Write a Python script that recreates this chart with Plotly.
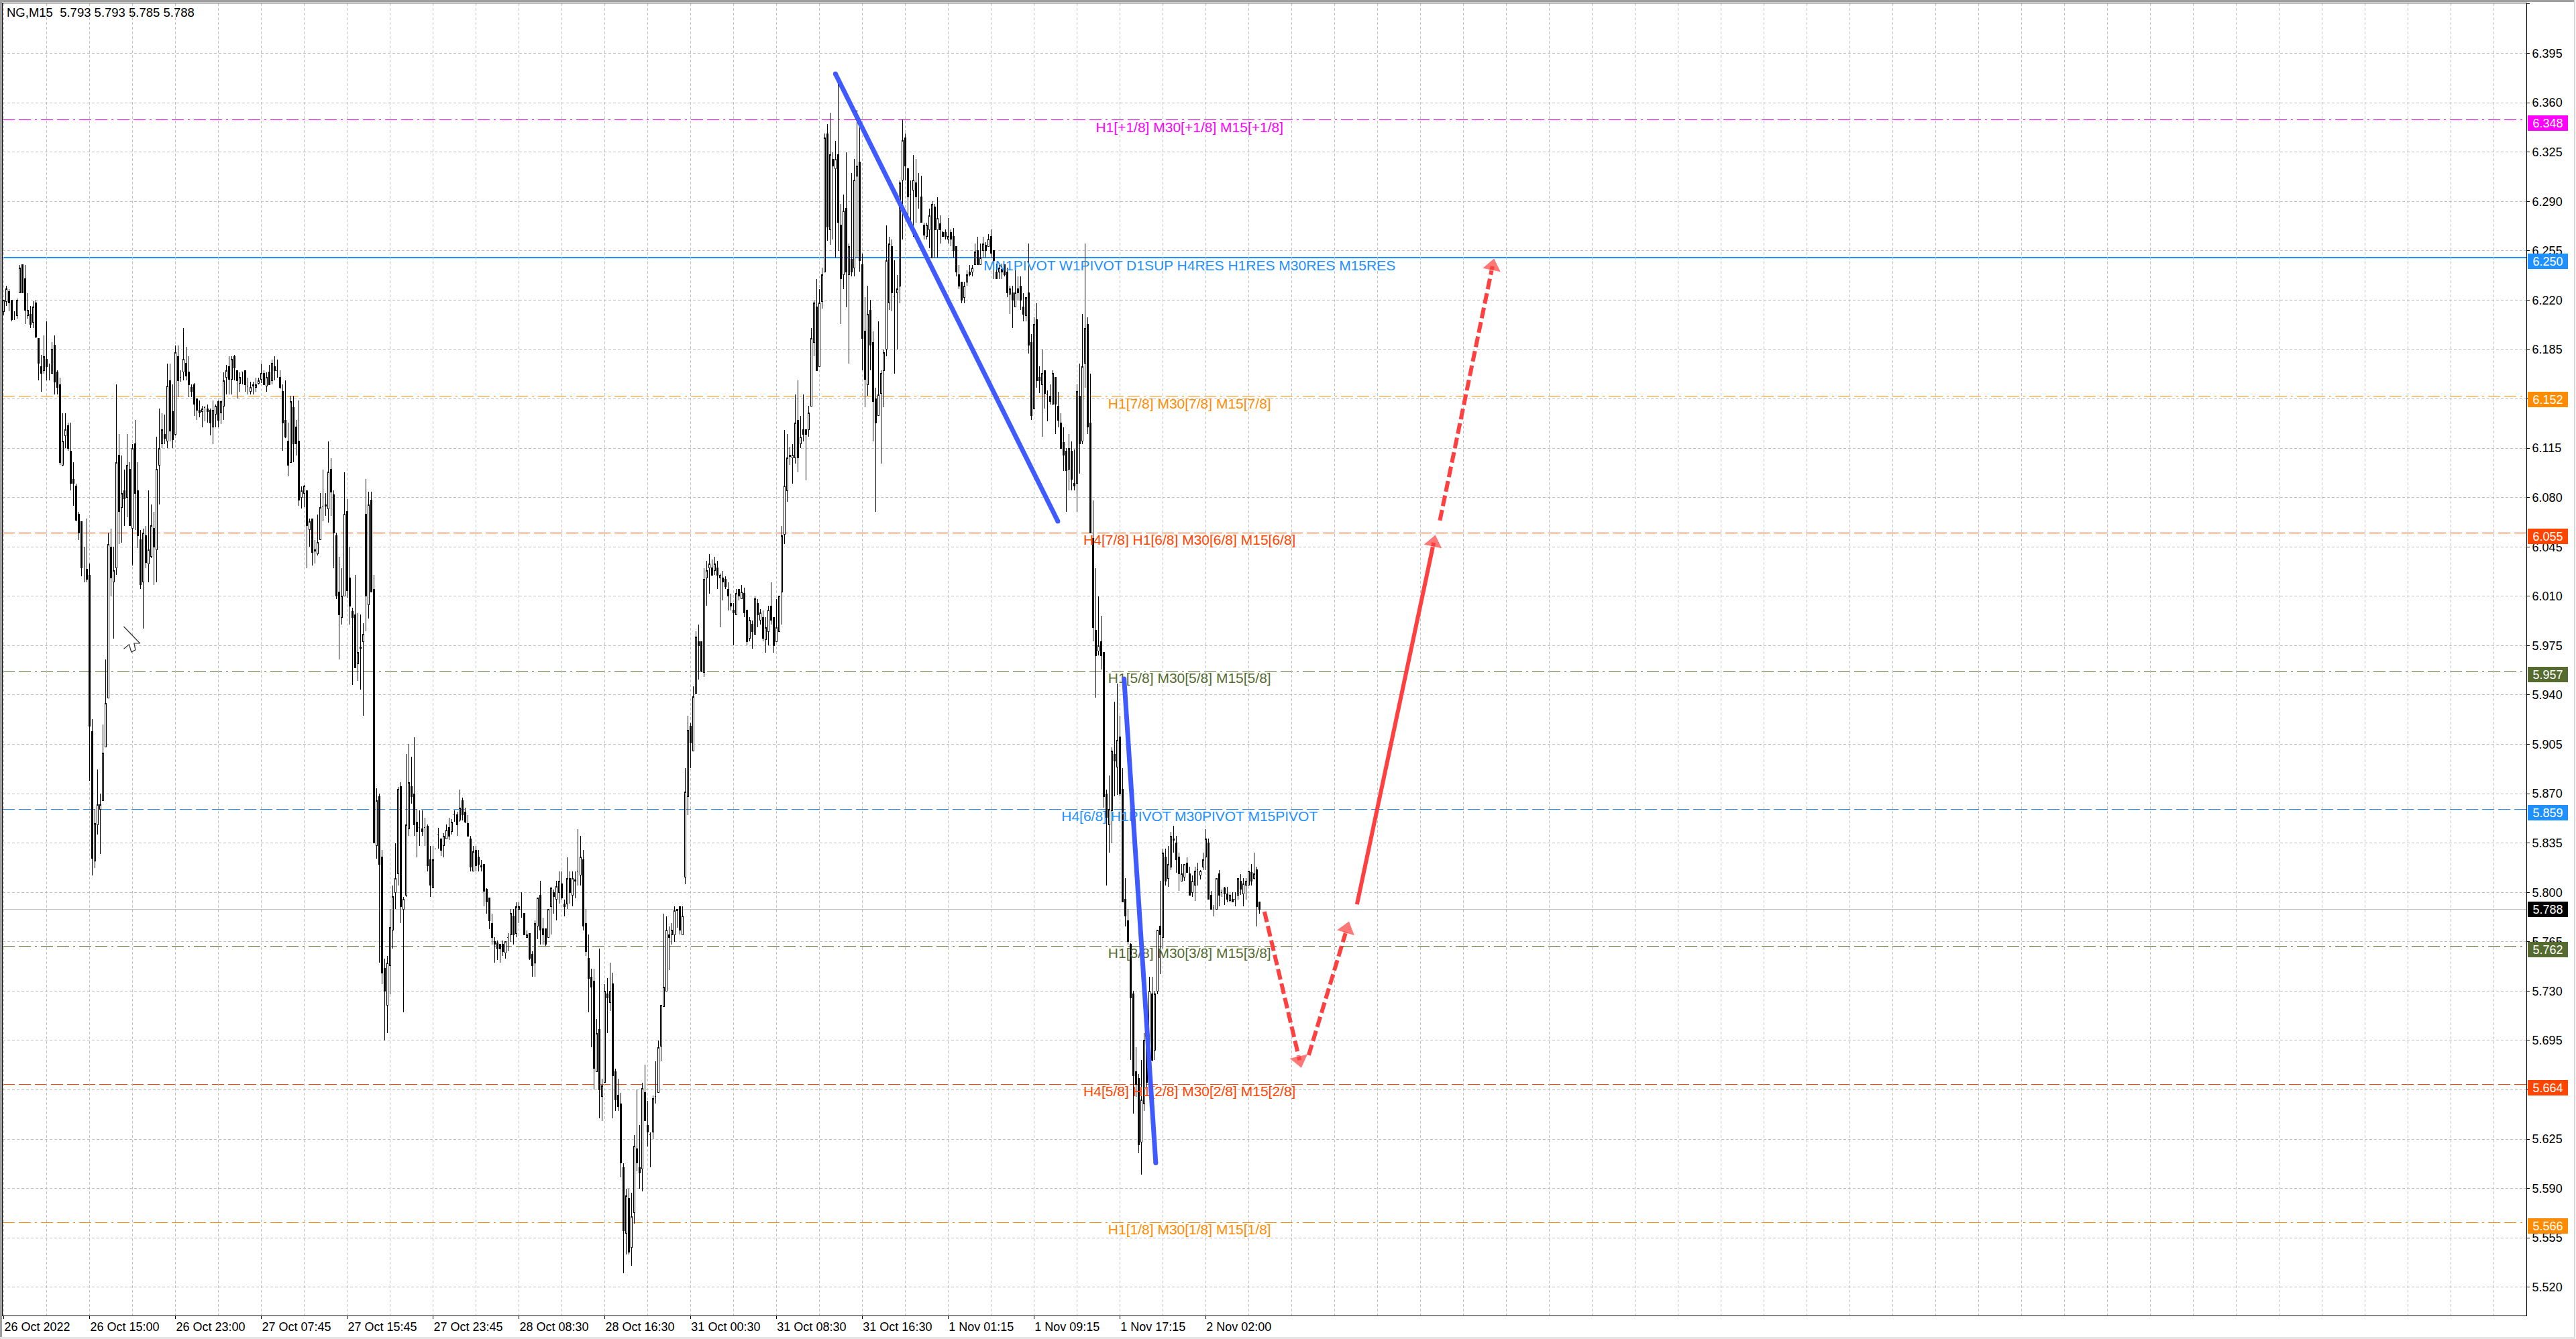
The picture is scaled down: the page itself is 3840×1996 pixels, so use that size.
import plotly.graph_objects as go

# Bars: (open, high, low, close)
bars_a = [
(6.212,6.220,6.209,6.220),(6.219,6.230,6.216,6.228),(6.226,6.228,6.212,6.218),(6.220,6.220,6.205,6.206),(6.209,6.212,6.206,6.209),
(6.209,6.221,6.207,6.220),(6.225,6.245,6.225,6.243),(6.245,6.245,6.225,6.225),(6.235,6.245,6.203,6.213),(6.209,6.225,6.207,6.213),
(6.210,6.216,6.200,6.203),(6.204,6.219,6.200,6.215),(6.218,6.220,6.193,6.194),(6.193,6.193,6.163,6.175),(6.173,6.181,6.155,6.168),
(6.170,6.195,6.168,6.180),(6.178,6.205,6.163,6.173),(6.170,6.175,6.163,6.170),(6.168,6.190,6.168,6.185),(6.188,6.195,6.153,6.162),
(6.169,6.170,6.153,6.158),(6.160,6.165,6.103,6.105),(6.103,6.140,6.102,6.120),(6.124,6.140,6.115,6.128),(6.131,6.133,6.113,6.115),
(6.113,6.133,6.085,6.090),(6.093,6.105,6.074,6.090),(6.088,6.090,6.063,6.064),(6.068,6.070,6.050,6.055),(6.063,6.063,6.024,6.030),
(6.033,6.045,6.020,6.033),(6.029,6.065,6.020,6.022),(6.025,6.033,5.879,5.918),(5.914,5.923,5.812,5.824),(5.822,5.859,5.817,5.849),
(5.848,5.887,5.841,5.862),(5.859,5.870,5.827,5.862),(5.865,5.919,5.865,5.899),(5.903,5.965,5.903,5.934),(5.938,6.055,5.938,6.047),
(6.045,6.058,6.010,6.023),(6.020,6.045,5.980,6.028),(6.030,6.160,6.025,6.105),(6.110,6.125,6.047,6.070),(6.073,6.110,6.048,6.083),
(6.085,6.100,6.060,6.079),(6.080,6.125,6.066,6.103),(6.100,6.105,6.060,6.060),(6.058,6.118,6.032,6.115),(6.118,6.135,6.057,6.083),
(6.085,6.105,6.044,6.053),(6.050,6.057,6.015,6.018),(6.020,6.058,5.987,6.055),(6.053,6.060,6.030,6.034),(6.033,6.085,6.020,6.043),
(6.038,6.075,6.037,6.060),(6.058,6.070,6.018,6.045),(6.043,6.123,6.020,6.100),(6.103,6.143,6.075,6.115),(6.118,6.140,6.115,6.128),
(6.125,6.139,6.118,6.122),(6.120,6.175,6.115,6.159),(6.163,6.175,6.120,6.127),(6.141,6.160,6.115,6.121),(6.125,6.188,6.124,6.183),
(6.180,6.188,6.151,6.163),(6.165,6.170,6.162,6.165),(6.169,6.200,6.163,6.178),(6.175,6.187,6.163,6.166),(6.169,6.180,6.151,6.160),
(6.158,6.160,6.151,6.155),(6.160,6.161,6.138,6.146),(6.150,6.150,6.135,6.142),(6.142,6.149,6.137,6.140),(6.141,6.145,6.130,6.143),
(6.144,6.145,6.134,6.144),(6.143,6.146,6.133,6.141),(6.142,6.143,6.124,6.133),(6.130,6.149,6.118,6.142),(6.139,6.146,6.130,6.145),
]
bars_b = [
(6.148,6.149,6.130,6.135),(6.140,6.149,6.132,6.148),(6.145,6.169,6.135,6.163),(6.165,6.174,6.153,6.170),(6.173,6.180,6.153,6.164),
(6.164,6.180,6.153,6.178),(6.180,6.181,6.163,6.172),(6.170,6.170,6.150,6.163),(6.161,6.169,6.155,6.165),(6.169,6.169,6.160,6.169),
(6.170,6.170,6.155,6.160),(6.159,6.165,6.153,6.159),(6.155,6.162,6.153,6.158),(6.159,6.162,6.153,6.160),(6.158,6.165,6.155,6.160),
(6.161,6.165,6.160,6.163),(6.164,6.175,6.161,6.168),(6.168,6.170,6.160,6.160),(6.159,6.169,6.155,6.165),(6.169,6.174,6.160,6.160),
(6.163,6.178,6.160,6.175),(6.173,6.180,6.163,6.170),(6.170,6.178,6.165,6.170),(6.165,6.170,6.157,6.158),(6.155,6.160,6.113,6.133),
(6.135,6.163,6.122,6.123),(6.120,6.133,6.095,6.103),(6.105,6.152,6.105,6.148),(6.144,6.152,6.105,6.118),(6.130,6.135,6.110,6.118),
(6.120,6.149,6.074,6.078),(6.080,6.088,6.072,6.085),(6.083,6.089,6.073,6.088),(6.085,6.085,6.030,6.060),(6.057,6.065,6.045,6.063),
(6.065,6.065,6.032,6.041),(6.042,6.050,6.033,6.043),(6.040,6.068,6.039,6.048),(6.050,6.083,6.050,6.073),(6.074,6.100,6.063,6.074),
(6.074,6.083,6.067,6.075),(6.072,6.120,6.062,6.098),(6.100,6.108,6.067,6.084),(6.082,6.085,6.030,6.055),(6.053,6.055,6.008,6.010),
(6.013,6.038,5.965,5.997),(5.995,6.030,5.990,6.010),(6.010,6.098,6.010,6.068),(6.070,6.079,6.009,6.014),(6.023,6.045,5.990,6.003),
(5.999,6.002,5.947,5.995),(5.997,6.025,5.959,5.959),(5.962,5.998,5.950,5.970),(5.973,5.997,5.944,5.974),(5.978,5.991,5.925,5.983),
(6.068,6.093,5.985,6.010),(6.004,6.084,5.994,6.075),(6.078,6.084,6.013,6.013),(6.015,6.025,5.835,5.835),(5.833,5.874,5.824,5.865),
(5.868,5.870,5.750,5.820),(5.825,5.830,5.735,5.743),(5.746,5.753,5.695,5.730),(5.720,5.755,5.700,5.750),(5.748,5.788,5.728,5.775),
(5.773,5.805,5.760,5.797),(5.800,5.835,5.788,5.810),(5.813,5.875,5.805,5.873),(5.875,5.878,5.778,5.790),(5.788,5.797,5.715,5.795),
(5.798,5.898,5.797,5.848),(5.845,5.905,5.840,5.878),(5.875,5.896,5.863,5.868),(5.870,5.910,5.840,5.848),(5.850,5.859,5.825,5.843),
(5.846,5.858,5.833,5.846),(5.845,5.858,5.840,5.843),(5.846,5.853,5.833,5.846),(5.847,5.848,5.815,5.819),(5.823,5.833,5.797,5.805),
]
bars_c = [
(5.803,5.833,5.803,5.823),(5.831,5.831,5.831,5.831),(5.841,5.846,5.831,5.841),(5.838,5.838,5.826,5.830),(5.833,5.842,5.825,5.840),
(5.838,5.848,5.838,5.844),(5.846,5.853,5.837,5.840),(5.843,5.852,5.841,5.850),(5.855,5.858,5.850,5.855),(5.855,5.857,5.840,5.848),
(5.851,5.873,5.850,5.860),(5.865,5.867,5.851,5.855),(5.857,5.860,5.849,5.850),(5.849,5.855,5.840,5.840),(5.838,5.840,5.815,5.818),
(5.815,5.833,5.815,5.829),(5.830,5.833,5.815,5.819),(5.825,5.830,5.815,5.820),(5.819,5.823,5.815,5.818),(5.820,5.820,5.790,5.801),
(5.802,5.803,5.785,5.793),(5.796,5.796,5.774,5.780),(5.778,5.785,5.763,5.768),(5.765,5.768,5.750,5.763),(5.764,5.766,5.752,5.760),
(5.763,5.763,5.750,5.760),(5.763,5.766,5.755,5.758),(5.757,5.765,5.753,5.765),(5.768,5.771,5.758,5.768),(5.770,5.788,5.765,5.785),
(5.783,5.788,5.763,5.770),(5.771,5.793,5.768,5.790),(5.788,5.793,5.778,5.790),(5.788,5.800,5.782,5.788),(5.785,5.785,5.770,5.770),
(5.768,5.773,5.768,5.770),(5.771,5.771,5.752,5.753),(5.756,5.758,5.740,5.748),(5.750,5.780,5.740,5.778),(5.776,5.796,5.767,5.796),
(5.798,5.808,5.763,5.773),(5.774,5.782,5.763,5.770),(5.774,5.774,5.762,5.763),(5.768,5.788,5.768,5.788),(5.790,5.803,5.770,5.803),
(5.800,5.802,5.785,5.797),(5.795,5.808,5.780,5.804),(5.800,5.815,5.792,5.808),(5.806,5.815,5.795,5.796),(5.792,5.795,5.783,5.790),
(5.792,5.825,5.788,5.810),(5.810,5.815,5.792,5.800),(5.798,5.815,5.790,5.810),(5.809,5.815,5.796,5.808),(5.815,5.845,5.805,5.815),
(5.812,5.840,5.805,5.825),(5.823,5.830,5.773,5.776),(5.778,5.788,5.755,5.758),(5.753,5.770,5.715,5.739),(5.740,5.746,5.690,5.733),
(5.737,5.746,5.660,5.675),(5.673,5.710,5.673,5.700),(5.703,5.760,5.640,5.660),(5.655,5.668,5.638,5.663),(5.665,5.735,5.665,5.730),
(5.728,5.739,5.700,5.725),(5.722,5.750,5.716,5.730),(5.735,5.743,5.640,5.670),(5.673,5.675,5.645,5.653),(5.656,5.668,5.645,5.648),
(5.650,5.658,5.598,5.608),(5.605,5.608,5.530,5.560),(5.558,5.590,5.543,5.585),(5.583,5.590,5.543,5.545),(5.548,5.587,5.535,5.570),
(5.573,5.628,5.565,5.620),(5.618,5.660,5.602,5.608),(5.605,5.635,5.590,5.601),(5.604,5.665,5.588,5.661),(5.658,5.678,5.638,5.638),
]
bars_d = [
(5.635,5.652,5.620,5.630),(5.628,5.630,5.605,5.628),(5.630,5.656,5.625,5.654),(5.655,5.680,5.650,5.655),(5.658,5.695,5.658,5.690),
(5.691,5.720,5.680,5.720),(5.719,5.785,5.719,5.733),(5.730,5.783,5.730,5.773),(5.770,5.776,5.745,5.768),(5.770,5.778,5.763,5.773),
(5.770,5.790,5.765,5.787),(5.787,5.788,5.775,5.788),(5.790,5.790,5.770,5.773),(5.770,5.790,5.770,5.783),(5.811,5.888,5.806,5.871),
(5.868,5.925,5.855,5.915),(5.918,5.920,5.888,5.906),(5.900,5.946,5.900,5.939),(5.941,5.985,5.941,5.981),(5.978,5.990,5.951,5.975),
(5.978,5.978,5.956,5.957),(5.956,6.030,5.953,6.022),(6.023,6.035,6.003,6.028),(6.030,6.040,6.012,6.033),(6.030,6.036,6.025,6.025),
(6.028,6.038,6.025,6.033),(6.030,6.035,6.015,6.025),(6.023,6.026,5.988,6.025),(6.023,6.028,6.007,6.020),(6.022,6.024,6.015,6.017),
(6.015,6.020,6.000,6.010),(6.005,6.012,6.000,6.003),(6.000,6.005,5.975,5.998),(5.997,6.015,5.997,6.012),(6.015,6.015,6.007,6.010),
(6.008,6.018,6.008,6.013),(6.012,6.016,5.995,5.998),(6.000,6.000,5.975,5.978),(5.980,5.995,5.978,5.993),(5.990,5.993,5.973,5.985),
(5.983,6.010,5.983,6.008),(6.005,6.008,5.988,5.997),(5.993,6.001,5.990,5.998),(5.995,6.000,5.978,5.980),(5.979,5.995,5.970,5.988),
(5.985,6.003,5.975,6.000),(6.003,6.020,5.990,5.993),(5.995,5.995,5.970,5.975),(5.978,6.008,5.978,5.988),(5.985,6.010,5.985,6.010),
(6.013,6.060,5.990,6.053),(6.054,6.128,6.047,6.088),(6.085,6.125,6.077,6.108),(6.109,6.116,6.103,6.110),(6.108,6.118,6.090,6.110),
(6.108,6.153,6.104,6.133),(6.135,6.163,6.098,6.108),(6.118,6.138,6.115,6.123),(6.128,6.153,6.120,6.125),(6.128,6.128,6.092,6.125),
(6.128,6.145,6.123,6.140),(6.145,6.200,6.145,6.193),(6.190,6.220,6.180,6.218),(6.215,6.235,6.170,6.170),(6.173,6.228,6.173,6.218),
(6.219,6.243,6.214,6.238),(6.240,6.338,6.240,6.335),(6.338,6.345,6.262,6.272),(6.270,6.353,6.259,6.323),(6.320,6.325,6.263,6.315),
(6.313,6.333,6.250,6.320),(6.323,6.374,6.255,6.275),(6.273,6.288,6.203,6.235),(6.238,6.295,6.228,6.283),(6.285,6.325,6.215,6.240),
(6.238,6.260,6.175,6.258),(6.249,6.310,6.237,6.240),(6.243,6.320,6.237,6.305),(6.308,6.355,6.250,6.315),(6.318,6.345,6.240,6.248),
]
bars_e = [
(6.245,6.253,6.170,6.193),(6.198,6.222,6.144,6.164),(6.160,6.230,6.152,6.210),(6.213,6.220,6.170,6.188),(6.190,6.198,6.120,6.148),
(6.150,6.158,6.070,6.133),(6.138,6.205,6.138,6.153),(6.154,6.170,6.104,6.168),(6.170,6.185,6.144,6.183),(6.185,6.273,6.180,6.248),
(6.218,6.265,6.213,6.260),(6.258,6.263,6.212,6.225),(6.223,6.248,6.168,6.223),(6.225,6.238,6.185,6.228),(6.230,6.305,6.218,6.303),
(6.305,6.348,6.263,6.333),(6.335,6.338,6.305,6.315),(6.313,6.314,6.277,6.293),(6.295,6.305,6.273,6.295),(6.298,6.323,6.265,6.305),
(6.303,6.320,6.275,6.293),(6.290,6.310,6.285,6.290),(6.293,6.308,6.275,6.275),(6.273,6.275,6.263,6.266),(6.265,6.275,6.263,6.273),
(6.270,6.285,6.257,6.280),(6.250,6.290,6.250,6.288),(6.286,6.288,6.250,6.270),(6.270,6.293,6.250,6.278),(6.274,6.280,6.260,6.270),
(6.268,6.269,6.265,6.265),(6.268,6.270,6.263,6.265),(6.263,6.278,6.260,6.265),(6.268,6.270,6.258,6.263),(6.265,6.271,6.250,6.255),
(6.258,6.258,6.237,6.240),(6.238,6.245,6.228,6.230),(6.233,6.233,6.218,6.220),(6.222,6.233,6.218,6.230),(6.233,6.241,6.230,6.238),
(6.240,6.245,6.237,6.238),(6.240,6.245,6.237,6.243),(6.245,6.260,6.245,6.254),(6.255,6.265,6.245,6.245),(6.245,6.260,6.245,6.250),
(6.255,6.265,6.250,6.260),(6.259,6.261,6.250,6.255),(6.258,6.267,6.258,6.263),(6.265,6.270,6.250,6.253),(6.255,6.255,6.235,6.248),
(6.240,6.246,6.235,6.235),(6.240,6.245,6.235,6.243),(6.242,6.246,6.235,6.240),(6.245,6.245,6.237,6.238),(6.240,6.243,6.222,6.225),
(6.224,6.230,6.210,6.228),(6.225,6.230,6.200,6.220),(6.215,6.242,6.215,6.225),(6.228,6.237,6.220,6.225),(6.230,6.237,6.213,6.220),
(6.215,6.225,6.205,6.210),(6.209,6.222,6.205,6.222),(6.225,6.260,6.182,6.188),(6.190,6.196,6.135,6.138),(6.143,6.208,6.143,6.203),
(6.206,6.218,6.158,6.163),(6.165,6.173,6.154,6.163),(6.160,6.185,6.123,6.168),(6.170,6.170,6.143,6.154),(6.153,6.156,6.134,6.153),
(6.152,6.160,6.146,6.148),(6.146,6.170,6.146,6.168),(6.165,6.165,6.125,6.146),(6.145,6.155,6.130,6.135),(6.133,6.140,6.115,6.115),
(6.119,6.130,6.099,6.110),(6.113,6.115,6.070,6.099),(6.100,6.125,6.085,6.115),(6.113,6.120,6.085,6.093),(6.090,6.114,6.085,6.088),
]
bars_f = [
(6.090,6.160,6.070,6.155),(6.152,6.175,6.097,6.118),(6.120,6.210,6.118,6.173),(6.175,6.260,6.158,6.200),(6.203,6.208,6.125,6.130),
(6.133,6.168,6.055,6.055),(6.051,6.078,5.978,5.988),(5.986,6.030,5.938,5.968),(5.971,6.010,5.968,5.975),(5.978,5.996,5.958,5.968),
(5.970,5.970,5.860,5.868),(5.870,5.873,5.805,5.853),(5.848,5.883,5.828,5.859),(5.858,5.903,5.835,5.900),(5.898,5.935,5.868,5.893),
(5.889,5.948,5.869,5.908),(5.910,5.925,5.868,5.870),(5.873,5.888,5.793,5.793),(5.795,5.810,5.776,5.783),(5.780,5.788,5.763,5.765),
(5.763,5.764,5.681,5.725),(5.728,5.730,5.643,5.670),(5.673,5.690,5.655,5.664),(5.668,5.671,5.615,5.621),(5.623,5.681,5.600,5.653),
(5.650,5.700,5.645,5.695),(5.693,5.708,5.662,5.665),(5.690,5.740,5.690,5.730),(5.728,5.740,5.680,5.681),(5.688,5.730,5.681,5.728),
(5.730,5.773,5.728,5.773),(5.776,5.808,5.742,5.770),(5.768,5.831,5.760,5.828),(5.825,5.831,5.805,5.808),(5.810,5.833,5.804,5.820),
(5.818,5.843,5.816,5.840),(5.837,5.847,5.828,5.838),(5.835,5.840,5.814,5.823),(5.825,5.828,5.801,5.813),(5.808,5.820,5.808,5.813),
(5.811,5.820,5.808,5.820),(5.821,5.825,5.814,5.814),(5.813,5.818,5.798,5.798),(5.800,5.812,5.797,5.808),(5.805,5.818,5.794,5.815),
(5.816,5.821,5.805,5.816),(5.812,5.816,5.809,5.815),(5.818,5.828,5.816,5.823),(5.825,5.845,5.816,5.838),(5.835,5.838,5.795,5.795),
(5.798,5.801,5.788,5.788),(5.789,5.791,5.783,5.789),(5.788,5.810,5.788,5.810),(5.813,5.816,5.790,5.798),(5.800,5.802,5.797,5.800),
(5.803,5.804,5.791,5.799),(5.799,5.804,5.793,5.795),(5.794,5.799,5.793,5.798),(5.795,5.800,5.793,5.793),(5.795,5.800,5.790,5.795),
(5.798,5.810,5.795,5.810),(5.808,5.813,5.798,5.802),(5.799,5.810,5.790,5.806),(5.805,5.810,5.795,5.808),(5.805,5.815,5.805,5.815),
(5.814,5.820,5.805,5.808),(5.810,5.828,5.809,5.813),(5.816,5.818,5.776,5.790),(5.793,5.793,5.785,5.788),
]

y_ticks = [6.430,6.395,6.360,6.325,6.290,6.255,6.220,6.185,6.150,6.115,6.080,6.045,6.010,5.975,5.940,5.905,5.870,5.835,5.800,5.765,5.730,5.695,5.660,5.625,5.590,5.555,5.520]
x_tick_bars = [0,32,64,96,128,160,192,224,256,288,320,352,384,416,448]
x_tick_text = ["26 Oct 2022","26 Oct 15:00","26 Oct 23:00","27 Oct 07:45","27 Oct 15:45","27 Oct 23:45","28 Oct 08:30","28 Oct 16:30",
               "31 Oct 00:30","31 Oct 08:30","31 Oct 16:30","1 Nov 01:15","1 Nov 09:15","1 Nov 17:15","2 Nov 02:00"]

level_prices = [6.348,6.250,6.152,6.055,5.957,5.859,5.762,5.664,5.566]
level_colors = ["#FF00FF","#1E90FF","#FF8C00","#FF4500","#556B2F","#1E90FF","#556B2F","#FF4500","#FF8C00"]
level_dashes = ["dd","solid","dd","dash","dd","dash","dd","dash","dd"]
level_texts = ["H1[+1/8] M30[+1/8] M15[+1/8]",
               "MN1PIVOT W1PIVOT D1SUP H4RES H1RES M30RES M15RES",
               "H1[7/8] M30[7/8] M15[7/8]",
               "H4[7/8] H1[6/8] M30[6/8] M15[6/8]",
               "H1[5/8] M30[5/8] M15[5/8]",
               "H4[6/8] H1PIVOT M30PIVOT M15PIVOT",
               "H1[3/8] M30[3/8] M15[3/8]",
               "H4[5/8] H1[2/8] M30[2/8] M15[2/8]",
               "H1[1/8] M30[1/8] M15[1/8]"]
bid_price = 5.788

blue_line_1_x = [310.0, 392.9]
blue_line_1_y = [6.3805, 6.0632]
blue_line_2_x = [417.6, 429.4]
blue_line_2_y = [5.9514, 5.6081]
red_down_x = [469.9, 483.0]
red_down_y = [5.7863, 5.6810]
red_up_x = [486.4, 500.6]
red_up_y = [5.6845, 5.7740]
red_solid_x = [504.4, 533.0]
red_solid_y = [5.7915, 6.0480]
red_top_x = [535.3, 554.9]
red_top_y = [6.0637, 6.2440]

cursor_x = [44.75, 50.8, 48.6, 49.1, 47.6, 46.75, 44.75]
cursor_y = [5.9885, 5.9766, 5.9766, 5.972, 5.9704, 5.9757, 5.9727]

bars = bars_a + bars_b + bars_c + bars_d + bars_e + bars_f
idx = list(range(len(bars)))
opens = [b[0] for b in bars]
highs = [b[1] for b in bars]
lows = [b[2] for b in bars]
closes = [b[3] for b in bars]

W, H = 3840, 1996
PL, PR, PT, PB = 4, 3766.5, 5, 1961
BAR_PX = 4.0
X0_PX = 5.5
PX_PER_PRICE = 2102.0
def x_range():
    return [(PL - X0_PX) / BAR_PX, (PR - X0_PX) / BAR_PX]
y_top = 6.395 + (79.5 - PT) / PX_PER_PRICE
y_bot = 6.395 - (PB - 79.5) / PX_PER_PRICE
LABEL_DROP = 13 / PX_PER_PRICE

GRID = "#C0C0C0"
DASHES = {"solid": "solid", "dash": "18px,6px", "dd": "18px,6px,18px,6px,3px,6px"}
BLUE = "#3F5BFF"
RED = "#FF4040"
FONT = "Liberation Sans"

fig = go.Figure()
fig.add_trace(go.Candlestick(
    x=idx, open=opens, high=highs, low=lows, close=closes,
    increasing=dict(line=dict(color="black", width=1), fillcolor="white"),
    decreasing=dict(line=dict(color="black", width=1), fillcolor="black"),
    whiskerwidth=0, showlegend=False, hoverinfo="skip"))

fig.add_trace(go.Scatter(
    x=[442] * len(level_prices), y=[p - LABEL_DROP for p in level_prices],
    text=level_texts, mode="text", textposition="middle center",
    textfont=dict(family=FONT, size=21, color=level_colors),
    showlegend=False, hoverinfo="skip"))

fig.add_trace(go.Scatter(x=cursor_x, y=cursor_y, mode="lines", fill="toself", fillcolor="white",
                         line=dict(color="#303030", width=1.2), showlegend=False, hoverinfo="skip"))

for xs, ys in [(blue_line_1_x, blue_line_1_y), (blue_line_2_x, blue_line_2_y)]:
    fig.add_trace(go.Scatter(x=xs, y=ys, mode="lines+markers",
                             line=dict(color=BLUE, width=7),
                             marker=dict(color=BLUE, size=7, symbol="circle"),
                             showlegend=False, hoverinfo="skip"))

for xs, ys, dash in [(red_down_x, red_down_y, "16px,6px"), (red_up_x, red_up_y, "16px,6px"),
                     (red_solid_x, red_solid_y, "solid"), (red_top_x, red_top_y, "16px,6px")]:
    fig.add_trace(go.Scatter(x=xs, y=ys, mode="lines+markers",
                             line=dict(color=RED, width=6, dash=dash),
                             marker=dict(color=RED, size=[6, 25], symbol=["circle", "triangle-up"],
                                         angleref="previous"),
                             showlegend=False, hoverinfo="skip"))

fig.add_trace(go.Scatter(x=[469.6], y=[y_top + 1 / PX_PER_PRICE], mode="markers",
                         marker=dict(symbol="triangle-down", size=11, color="#C0C0C0"),
                         cliponaxis=False, showlegend=False, hoverinfo="skip"))

shapes = []
for p, c, d in zip(level_prices, level_colors, level_dashes):
    shapes.append(dict(type="line", xref="paper", yref="y", x0=0, x1=1, y0=p, y1=p, layer="below",
                       line=dict(color=c, width=2 if d == "solid" else 1, dash=DASHES[d])))
shapes.append(dict(type="line", xref="paper", yref="y", x0=0, x1=1, y0=bid_price, y1=bid_price, layer="below",
                   line=dict(color=GRID, width=1)))

def px_x(v):
    return (v - PL) / (PR - PL)
def px_y(v):
    return (PB - v) / (PB - PT)
for (x0, y0, x1, y1, col) in [(0, 0, W, 3, "#A0A0A0"), (0, 0, 3, H, "#A0A0A0"),
                              (W - 2, 0, W, H, "#D8D8D8"), (0, H - 3, W, H, "#E4E4E4")]:
    shapes.append(dict(type="rect", xref="paper", yref="paper", x0=px_x(x0), x1=px_x(x1),
                       y0=px_y(y0), y1=px_y(y1), line=dict(width=0), fillcolor=col, layer="above"))

annotations = [dict(xref="paper", yref="paper", x=0, y=1, xanchor="left", yanchor="top", xshift=4, yshift=-1,
                    showarrow=False, align="left",
                    text="NG,M15\u00a0\u00a05.793 5.793 5.785 5.788",
                    font=dict(family=FONT, size=18.5, color="black"))]
for p, c in zip(level_prices, level_colors):
    annotations.append(dict(xref="paper", yref="y", x=1, y=p, xanchor="left", yanchor="middle",
                            xshift=2, yshift=-5, showarrow=False, text=f"{p:.3f}", width=60, height=23,
                            bgcolor=c, borderpad=0, borderwidth=0, align="center",
                            font=dict(family=FONT, size=18, color="white")))
annotations.append(dict(xref="paper", yref="y", x=1, y=bid_price, xanchor="left", yanchor="middle",
                        xshift=2, showarrow=False, text=f"{bid_price:.3f}", width=60, height=23,
                        bgcolor="black", borderpad=0, borderwidth=0, align="center",
                        font=dict(family=FONT, size=18, color="white")))

fig.update_layout(
    width=W, height=H, autosize=False,
    margin=dict(l=PL, r=W - PR, t=PT, b=H - PB, pad=0),
    paper_bgcolor="white", plot_bgcolor="white",
    showlegend=False, shapes=shapes, annotations=annotations,
    font=dict(family=FONT, size=18, color="black"),
    xaxis=dict(range=x_range(), rangeslider=dict(visible=False),
               tickmode="array", tickvals=x_tick_bars, ticktext=x_tick_text,
               ticklabelposition="outside right", tickangle=0,
               ticks="outside", ticklen=4, tickcolor="black", tickwidth=1,
               showgrid=True, gridcolor=GRID, griddash="4px,3px", gridwidth=1,
               minor=dict(showgrid=True, tick0=16, dtick=16, gridcolor=GRID, griddash="4px,3px", gridwidth=1, ticks=""),
               showline=True, linecolor="black", linewidth=1, mirror=True, zeroline=False,
               tickfont=dict(family=FONT, size=18, color="black")),
    yaxis=dict(range=[y_bot, y_top], side="right",
               tickmode="array", tickvals=y_ticks, ticktext=[f"{v:.3f}" for v in y_ticks],
               ticks="outside", ticklen=4, tickcolor="black", tickwidth=1,
               showgrid=True, gridcolor=GRID, griddash="4px,3px", gridwidth=1,
               showline=True, linecolor="black", linewidth=1, mirror=True, zeroline=False,
               tickfont=dict(family=FONT, size=18, color="black")),
)
post = """
document.body.style.margin='0';document.body.style.padding='0';
var crisp=function(){document.querySelectorAll('.shapelayer path, .boxes path').forEach(function(p){p.style.shapeRendering='crispEdges';});};
crisp();setTimeout(crisp,200);
"""
fig.write_html("out.html", config=dict(displayModeBar=False), post_script=post)
